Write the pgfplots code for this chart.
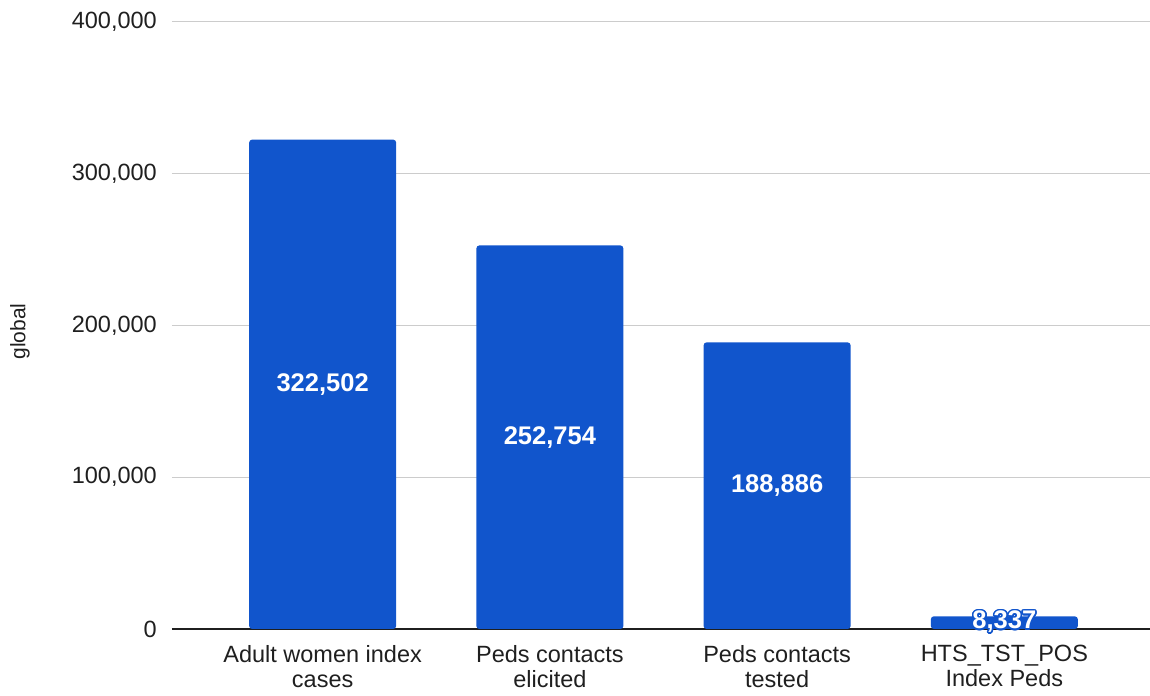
\documentclass[border=0pt]{standalone}
\usepackage{fontspec}
\setmainfont{Liberation Sans}
\usepackage{pgfplots}
\pgfplotsset{compat=1.18}
\usepackage{pgfplotstable}
\usepackage[copies]{contour}
\contourlength{1.6pt}
\definecolor{barblue}{HTML}{1155CC}
\definecolor{txt}{HTML}{1F1F1F}
\definecolor{gridgray}{HTML}{CCCCCC}

\pgfplotstableread{
x v
0 322502
1 252754
2 188886
3 8337
}\datatable

\begin{document}
\fontsize{23.5}{25}\selectfont
\begin{tikzpicture}
\begin{axis}[
  name=ax, at={(0,0)}, anchor=south west,
  scale only axis, width=978pt, height=607pt,
  xmin=-0.663, xmax=3.641, ymin=0, ymax=400000,
  axis x line*=bottom, axis y line*=left,
  y axis line style={draw=none},
  x axis line style={draw=txt, line width=1.2pt, -},
  major tick length=0pt,
  ytick={0,100000,200000,300000,400000},
  ymajorgrids, grid style={gridgray, line width=1pt},
  scaled y ticks=false,
  /pgf/number format/assume math mode=true,
  /pgf/number format/fixed,
  /pgf/number format/1000 sep={,},
  /pgf/number format/precision=0,
  yticklabel style={text=txt, inner sep=0pt, xshift=-15pt, font=\fontsize{23.5}{25}\selectfont},
  xtick={0,1,2,3},
  xticklabels={Adult women index\\cases, Peds contacts\\elicited, Peds contacts\\tested, HTS\_TST\_POS\\Index Peds},
  xticklabel style={align=center, text=txt, inner sep=0pt, yshift=-16pt, font=\fontsize{23.5}{25}\selectfont},
  ylabel={global},
  ylabel style={at={(axis description cs:-0.1554,0.49)}, anchor=center, text=txt, font=\fontsize{21}{24}\selectfont},
  clip=false,
  every node near coord/.style={anchor=center, text=white, inner sep=0pt,
    font=\bfseries\fontsize{25.5}{27}\selectfont},
]
\addplot[ybar, bar width=147pt, fill=barblue, draw=none, rounded corners=3pt]
  table[x=x, y=v]{\datatable};
% value labels at mid-height of the tall bars
\addplot[draw=none, mark=none, point meta=\thisrow{v},
  skip coords between index={3}{4},
  nodes near coords={\pgfmathprintnumber{\pgfplotspointmeta}}]
  table[x=x, y expr=\thisrow{v}/2]{\datatable};
% the short bar's label sticks out of the bar, so it gets a blue outline
\addplot[draw=none, mark=none, point meta=\thisrow{v},
  skip coords between index={0}{3},
  nodes near coords={\contour{barblue}{\pgfmathprintnumber{\pgfplotspointmeta}}}]
  table[x=x, y expr=\thisrow{v}/2]{\datatable};
\end{axis}
\pgfresetboundingbox
\path[use as bounding box] ([xshift=-172pt,yshift=-67pt]ax.south west) rectangle ([yshift=22pt]ax.north east);
\end{tikzpicture}
\end{document}
